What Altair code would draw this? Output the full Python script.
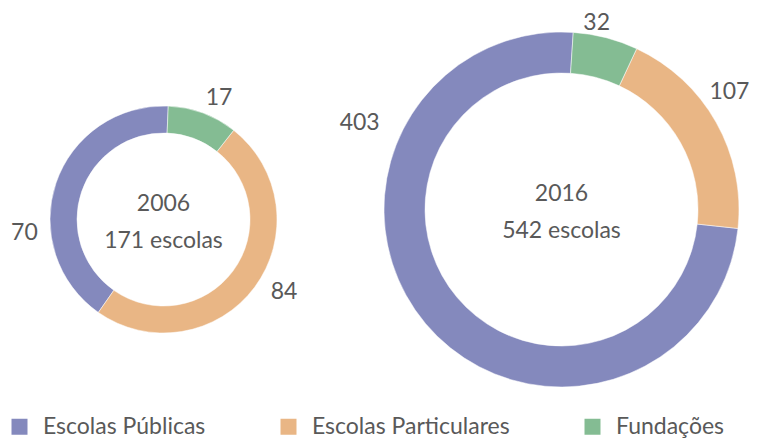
import math
import altair as alt
import pandas as pd

# ---------------- data ----------------
categories = ["Escolas Públicas", "Escolas Particulares", "Fundações"]
colors = ["#8489BD", "#E9B685", "#84BC93"]
years = ["2006", "2016"]
values_2006 = [70, 84, 17]
values_2016 = [403, 107, 32]
stack_order = [3, 2, 1]  # clockwise from 12 o'clock: Fundações, Particulares, Públicas

# ---------------- layout (pixels) ----------------
W, H = 742, 431
FONT = "Lato"
TXT = "#595959"
donut_layout = {
    "2006": dict(cx=155.5, cy=211.5, r_out=113.5, r_in=86.5, start=2.4, ty=-16),
    "2016": dict(cx=553.5, cy=201.5, r_out=177.5, r_in=136.5, start=3.8, ty=-16),
}
# label placement: (angle in degrees clockwise from 12 o'clock, distance from centre)
label_polar = {
    "2006": [(264.3, 139.8), (121.0, 140.6), (24.6, 133.6)],
    "2016": [(293.1, 219.4), (55.0, 205.0), (10.7, 189.5)],
}

color_scale = alt.Scale(domain=categories, range=colors)


def donut(year, values):
    lay = donut_layout[year]
    total = sum(values)
    df = pd.DataFrame({"categoria": categories, "valor": values, "ord": stack_order})
    start = math.radians(lay["start"])
    arc = alt.Chart(df).mark_arc(
        radius=lay["r_out"], radius2=lay["r_in"], stroke="white", strokeWidth=0.5
    ).encode(
        x=alt.value(lay["cx"]),
        y=alt.value(lay["cy"]),
        theta=alt.Theta(
            "valor:Q",
            stack=True,
            scale=alt.Scale(domain=[0, total], range=[start, start + 2 * math.pi]),
        ),
        order=alt.Order("ord:Q"),
        color=alt.Color(
            "categoria:N",
            scale=color_scale,
            sort=categories,
            legend=alt.Legend(
                title=None,
                orient="none",
                direction="horizontal",
                legendX=0,
                legendY=407,
                symbolType="square",
                symbolSize=256,
                symbolStrokeWidth=0,
                labelFontSize=23,
                labelFont=FONT,
                labelColor=TXT,
                labelOffset=12,
                labelLimit=0,
                columnPadding=71,
            ),
        ),
    )
    ldf = pd.DataFrame({
        "valor": values,
        "ang": [math.radians(a) for a, _ in label_polar[year]],
        "r": [r for _, r in label_polar[year]],
    })
    labels = alt.Chart(ldf).mark_text(
        font=FONT, fontSize=23, color=TXT, baseline="middle", align="center"
    ).encode(
        x=alt.value(lay["cx"]),
        y=alt.value(lay["cy"]),
        theta=alt.Theta("ang:Q", scale=None),
        radius=alt.Radius("r:Q", scale=None),
        text=alt.Text("valor:Q"),
    )
    center = alt.Chart(pd.DataFrame({"a": [0]})).mark_text(
        text=[year, f"{total} escolas"],
        font=FONT, fontSize=23, color=TXT, lineHeight=37,
        baseline="middle", align="center",
    ).encode(
        x=alt.value(lay["cx"]),
        y=alt.value(lay["cy"] + lay["ty"]),
    )
    return [arc, labels, center]


layers = donut("2006", values_2006) + donut("2016", values_2016)

chart = alt.layer(*layers).resolve_scale(theta="independent").properties(
    width=W, height=H, padding=0, autosize=alt.AutoSizeParams(type="none")
).configure_view(stroke=None)

chart.save("out.html", embed_options={"renderer": "svg", "actions": False})
